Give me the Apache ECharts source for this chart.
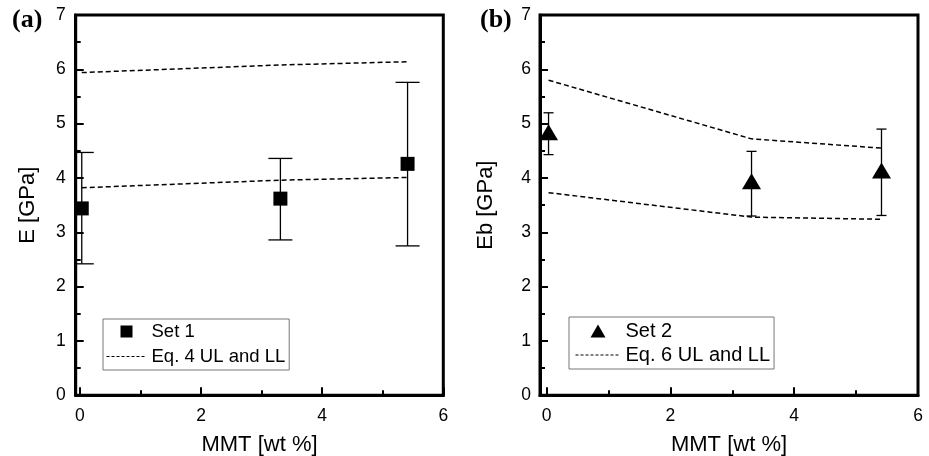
<!DOCTYPE html>
<html>
<head>
<meta charset="utf-8">
<script src="https://cdn.jsdelivr.net/npm/echarts@6/dist/echarts.min.js"></script>
<style>html,body{margin:0;padding:0;background:#fff}#c{width:929px;height:456px}</style>
</head>
<body>
<div id="c"></div>
<script>
// ---- Panel (a): Set 1 ----
var set1X = [0.03, 3.31, 5.41];
var set1Y = [3.44, 3.62, 4.26];
var set1Low = [2.42, 2.86, 2.75];
var set1High = [4.47, 4.36, 5.76];
var eq4X = [0.03, 3.31, 5.41];
var eq4UL = [5.94, 6.08, 6.14];
var eq4LL = [3.82, 3.96, 4.01];

// ---- Panel (b): Set 2 ----
var set2X = [0.03, 3.31, 5.41];
var set2Y = [4.84, 3.94, 4.14];
var set2Low = [4.43, 3.30, 3.31];
var set2High = [5.20, 4.49, 4.90];
var eq6X = [0.03, 3.31, 5.41];
var eq6UL = [5.80, 4.72, 4.55];
var eq6LL = [3.73, 3.28, 3.24];

// ---- Axis ticks ----
var xMajorTicks = [0, 2, 4, 6];
var xMinorTicks = [1, 3, 5];

var FONT = 'Liberation Sans';
function zip(xs, ys) { return xs.map(function (x, i) { return [x, ys[i]]; }); }
function zip3(xs, a, b) { return xs.map(function (x, i) { return [x, a[i], b[i]]; }); }

function errRender(hw) {
  return function (params, api) {
    var x = api.value(0);
    var hi = api.coord([x, api.value(2)]);
    var lo = api.coord([x, api.value(1)]);
    var left = params.coordSys.x;
    var st = { stroke: '#000', lineWidth: 1.3 };
    return {
      type: 'group',
      children: [
        { type: 'line', shape: { x1: hi[0], y1: hi[1], x2: lo[0], y2: lo[1] }, style: st },
        { type: 'line', shape: { x1: Math.max(hi[0] - hw, left), y1: hi[1], x2: hi[0] + hw, y2: hi[1] }, style: st },
        { type: 'line', shape: { x1: Math.max(lo[0] - hw, left), y1: lo[1], x2: lo[0] + hw, y2: lo[1] }, style: st }
      ]
    };
  };
}

var axisLineStyle = { color: '#000', width: 3 };
function xMajor(gi, xmin) {
  return {
    type: 'value', gridIndex: gi, min: xmin, max: 6, position: 'bottom',
    name: 'MMT [wt %]', nameLocation: 'middle', nameGap: 39,
    nameTextStyle: { fontFamily: FONT, fontSize: 22, color: '#000' },
    axisLine: { show: true, onZero: false, lineStyle: axisLineStyle },
    axisTick: { show: true, inside: true, length: 8, customValues: xMajorTicks, lineStyle: { color: '#000', width: 2 } },
    axisLabel: { show: true, customValues: xMajorTicks, margin: 12, fontFamily: FONT, fontSize: 17.5, color: '#000' },
    splitLine: { show: false }
  };
}
function xMinor(gi, xmin) {
  return {
    type: 'value', gridIndex: gi, min: xmin, max: 6, position: 'bottom',
    axisLine: { show: false, onZero: false },
    axisTick: { show: true, inside: true, length: 5, customValues: xMinorTicks, lineStyle: { color: '#000', width: 2 } },
    axisLabel: { show: false },
    splitLine: { show: false }
  };
}
function yAxis(gi, name, gap, margin) {
  return {
    type: 'value', gridIndex: gi, min: 0, max: 7, interval: 1,
    name: name, nameLocation: 'middle', nameGap: gap,
    nameTextStyle: { fontFamily: FONT, fontSize: 22, color: '#000' },
    axisLine: { show: true, onZero: false, lineStyle: axisLineStyle },
    axisTick: { show: true, inside: true, length: 8, lineStyle: { color: '#000', width: 2 } },
    minorTick: { show: true, splitNumber: 2, length: 5, lineStyle: { color: '#000', width: 2 } },
    axisLabel: { margin: margin, fontFamily: FONT, fontSize: 17.5, color: '#000' },
    splitLine: { show: false }, minorSplitLine: { show: false }
  };
}

var dashStyle = { color: '#000', width: 1.5, type: [5, 3] };

var option = {
  animation: false,
  backgroundColor: '#fff',
  title: [
    { text: '(a)', left: 12, top: 7, padding: 0, textStyle: { fontFamily: 'Liberation Serif', fontWeight: 'bold', fontSize: 26, color: '#000' } },
    { text: '(b)', left: 480, top: 7, padding: 0, textStyle: { fontFamily: 'Liberation Serif', fontWeight: 'bold', fontSize: 26, color: '#000' } }
  ],
  grid: [
    { left: 75.7, top: 15, width: 367.6, height: 380.3, outerBoundsMode: 'none', containLabel: false, show: true, borderColor: '#000', borderWidth: 3, backgroundColor: 'transparent' },
    { left: 540, top: 15, width: 378, height: 380.3, outerBoundsMode: 'none', containLabel: false, show: true, borderColor: '#000', borderWidth: 3, backgroundColor: 'transparent' }
  ],
  xAxis: [xMajor(0, -0.07), xMinor(0, -0.07), xMajor(1, -0.108), xMinor(1, -0.108)],
  yAxis: [yAxis(0, 'E [GPa]', 37, 10), yAxis(1, 'Eb [GPa]', 43, 9)],
  legend: [
    {
      selectedMode: false, orient: 'vertical', left: 103, top: 319,
      padding: [3, 4, 4, 3], itemGap: 6, itemWidth: 40, itemHeight: 12, itemTextGap: 7,
      backgroundColor: '#fff', borderColor: '#777', borderWidth: 1,
      textStyle: { fontFamily: FONT, fontSize: 18.5, lineHeight: 18, color: '#000' },
      lineStyle: { type: [3, 2], width: 1 },
      data: [
        { name: 'Set 1', icon: 'path://M0,0H10V10H0Z', itemStyle: { color: '#000', opacity: 1 } },
        { name: 'Eq. 4 UL and LL', itemStyle: { opacity: 0 } }
      ]
    },
    {
      selectedMode: false, orient: 'vertical', left: 569, top: 317,
      padding: [4, 4, 4, 6], itemGap: 4, itemWidth: 45, itemHeight: 13, itemTextGap: 7,
      backgroundColor: '#fff', borderColor: '#777', borderWidth: 1,
      textStyle: { fontFamily: FONT, fontSize: 20, lineHeight: 20, color: '#000' },
      lineStyle: { type: [3, 2], width: 1 },
      data: [
        { name: 'Set 2', icon: 'path://M7.5,0L15,13H0Z', itemStyle: { color: '#000', opacity: 1 } },
        { name: 'Eq. 6 UL and LL', itemStyle: { opacity: 0 } }
      ]
    }
  ],
  series: [
    { name: 'Eq. 4 UL and LL', type: 'line', xAxisIndex: 0, yAxisIndex: 0, symbol: 'none', color: '#000', lineStyle: dashStyle, data: zip(eq4X, eq4UL), z: 2 },
    { name: 'Eq. 4 UL and LL', type: 'line', xAxisIndex: 0, yAxisIndex: 0, symbol: 'none', color: '#000', lineStyle: dashStyle, data: zip(eq4X, eq4LL), z: 2 },
    { name: 'err1', type: 'custom', xAxisIndex: 0, yAxisIndex: 0, renderItem: errRender(12), data: zip3(set1X, set1Low, set1High), z: 3 },
    { name: 'Set 1', type: 'scatter', xAxisIndex: 0, yAxisIndex: 0, symbol: 'rect', symbolSize: 14, color: '#000', itemStyle: { color: '#000', opacity: 1 }, data: zip(set1X, set1Y), z: 4 },

    { name: 'Eq. 6 UL and LL', type: 'line', xAxisIndex: 2, yAxisIndex: 1, symbol: 'none', color: '#000', lineStyle: dashStyle, data: zip(eq6X, eq6UL), z: 2 },
    { name: 'Eq. 6 UL and LL', type: 'line', xAxisIndex: 2, yAxisIndex: 1, symbol: 'none', color: '#000', lineStyle: dashStyle, data: zip(eq6X, eq6LL), z: 2 },
    { name: 'err2', type: 'custom', xAxisIndex: 2, yAxisIndex: 1, renderItem: errRender(5), data: zip3(set2X, set2Low, set2High), z: 3 },
    { name: 'Set 2', type: 'scatter', xAxisIndex: 2, yAxisIndex: 1, symbol: 'triangle', symbolSize: [19, 16], color: '#000', itemStyle: { color: '#000', opacity: 1 }, data: zip(set2X, set2Y), z: 4 }
  ]
};

var chart = echarts.init(document.getElementById('c'), null, { renderer: 'canvas' });
chart.setOption(option);
</script>
</body>
</html>
